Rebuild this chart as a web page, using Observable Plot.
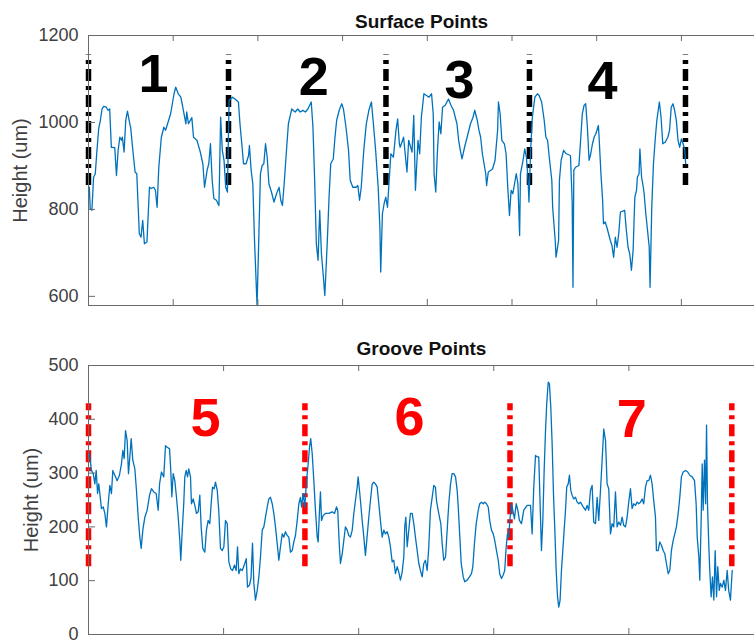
<!DOCTYPE html>
<html>
<head>
<meta charset="utf-8">
<script src="https://cdn.jsdelivr.net/npm/d3@7"></script>
<script src="https://cdn.jsdelivr.net/npm/@observablehq/plot@0.6"></script>
<style>
html, body { margin: 0; padding: 0; background: #fff; overflow: hidden; }
#chart { width: 754px; height: 640px; position: relative; background: #fff; }
#chart svg { display: block; }
</style>
</head>
<body>
<div id="chart"></div>
<script>
// ---------- Surface Points (top panel) ----------
const surfaceX = [1,2,4,6,8,10,12,14,16,18,
21,23,25,27,31,33,35,37,39,40,
42,44,46,48,50,52,55,57,60,62,
64,66,69,72,74,77,79,81,83,86,
89,91,94,97,99,101,103,106,109,111,
112,115,116,118,122,124,128,132,135,137,
140,142,144,146,148,151,154,156,158,160,
162,164,166,170,173,177,179,181,183,186,
189,190,192,194,196,199,201,203,205,207,
209,211,213,216,219,222,225,227,229,231,
234,236,240,244,247,250,253,256,259,263,
265,267,269,271,273,275,277,279,282,284,
286,289,291,293,296,299,301,304,307,309,
312,316,318,320,322,325,328,331,334,336,
339,342,344,345,347,349,351,353,355,357,
360,363,365,367,368,372,376,378,382,384,
386,389,391,393,396,399,402,405,407,408,
410,412,414,416,418,421,425,428,431,433,
435,437,439,441,444,447,451,454,456,459,
461,463,465,467,469,470,472,475,477,480,
483,484,486,488,491,493,495,497,499,501,
505,507,509,510,513,515,517,519,520,522,
524,527,530,532,535,538,540,542,544,547,
548,551,552,555,556,558,561,564,569,571,
572,573,575,579,581,583,585,587,589,591,
593,595,597,599,602,603,605,607,608,610,
612,614,616,618,620,622,624,626,628,633,
635,637,639,641,643,645,647,648,650,651,
653,655,656,658,660,662,663,665,667,669,
671,674,676,678,681,684,686,688,690,692,
694,696,698,700,702,704,705];
const surfaceY = [851,801,798,874,882,936,985,1005,1031,1037,
1035,1028,1031,943,942,878,936,966,959,966,
932,1005,1026,1005,985,943,886,882,744,736,
775,721,725,851,848,851,844,805,897,966,
989,982,1001,1020,1043,1066,1081,1066,1058,1039,
1028,997,1024,997,1011,966,959,932,905,851,
890,905,951,867,825,821,809,1012,936,913,
851,840,1051,1058,1054,1047,993,951,905,905,
924,947,890,859,729,579,729,882,901,905,
951,920,859,840,817,836,851,821,809,859,
943,997,1031,1024,1031,1024,1028,1024,1031,1047,
989,867,721,683,798,698,652,602,729,828,
905,916,966,1005,1028,1043,1031,989,936,867,
851,851,855,821,851,936,997,1028,1047,1005,
936,851,759,656,790,813,828,805,867,928,
920,982,1008,951,943,966,886,959,932,1016,
844,959,928,1012,1066,1062,1058,1066,1020,882,
840,936,1001,974,1035,1039,1054,1039,1028,1012,
997,959,936,916,943,966,997,1012,1028,1005,
982,966,928,905,882,855,886,890,893,913,
982,1047,1020,959,951,928,851,786,844,836,
882,859,740,882,913,939,920,867,817,936,
1012,1058,1066,1062,1047,1005,966,959,920,867,
805,729,690,729,867,913,936,928,924,821,
621,890,897,901,959,1020,1039,1043,989,913,
928,951,966,974,993,959,882,821,767,771,
759,744,729,717,690,736,713,744,794,798,
752,713,698,660,706,828,844,874,882,939,
874,851,836,790,752,713,621,805,905,959,
1005,1047,1012,951,955,966,982,1035,1043,1028,
1005,959,943,962,951,936,905];
const surfaceYTicks = [600, 800, 1000, 1200];
const surfaceXTicks = [0, 100, 200, 300, 400, 500, 600, 700];
const surfaceDividers = [0, 165.3, 351.2, 520.6, 704.8];
const surfaceDividerSpan = [855, 1155];
const surfaceSegments = ["1", "2", "3", "4"];
const surfaceSegmentX = [76.7, 266, 438, 606.8];
const surfaceSegmentY = [1110, 1104, 1095, 1093];

// ---------- Groove Points (bottom panel) ----------
const grooveX = [0.7,2.2,3.5,4.7,5.7,6.7,7.6,8.7,9.6,10.9,
12.1,13.3,14.6,15.8,17.0,18.0,19.5,21.2,22.9,24.4,
25.4,26.4,27.4,28.6,29.6,30.6,31.6,32.8,34.3,35.5,
36.8,38.0,39.0,40.2,41.7,43.4,45.2,46.6,48.3,50.1,
51.6,52.6,54.0,55.7,57.0,58.3,60.0,60.9,61.7,62.7,
63.9,65.1,66.4,67.6,68.3,69.4,70.5,71.3,72.3,73.3,
74.2,75.5,76.2,77.5,78.7,79.9,81.2,82.4,83.4,84.6,
86.1,87.3,88.6,89.8,90.8,91.8,93.0,94.0,95.3,96.4,
97.7,99.0,100.2,101.4,102.7,103.9,105.3,106.6,108.1,109.3,
110.3,111.3,112.5,113.8,115.3,116.8,117.7,119.2,120.3,121.4,
122.4,123.6,124.9,126.1,127.3,128.6,129.8,131.0,132.3,133.5,
134.7,136.0,137.2,138.4,139.7,140.9,142.1,143.4,144.6,145.8,
147.1,148.3,149.5,150.8,152.0,153.2,154.5,155.7,156.9,157.7,
158.9,160.1,161.4,162.6,163.6,164.5,165.6,166.8,168.0,169.3,
170.0,171.0,171.7,172.5,173.7,175.4,177.9,180.4,182.1,183.6,
184.5,185.6,186.5,187.8,189.0,190.2,191.5,192.7,193.9,195.2,
196.4,197.6,198.9,199.6,200.6,201.3,202.6,203.8,205.0,206.2,
207.5,208.7,210.0,211.2,212.4,213.7,214.9,216.1,217.4,218.6,
219.8,221.1,222.3,223.5,224.8,226.0,227.2,228.5,229.7,230.9,
232.2,233.4,234.1,234.9,235.9,237.1,238.3,239.6,240.8,242.0,
243.3,244.5,245.7,247.0,248.2,249.4,250.7,251.9,253.1,254.4,
255.6,256.8,257.6,258.8,259.8,260.8,261.8,263.0,264.3,265.5,
266.7,268.0,269.2,270.4,271.7,272.9,273.7,274.6,275.9,277.4,
278.5,280.3,282.0,283.5,284.5,285.7,287.0,288.5,289.6,290.9,
292.2,293.3,294.6,295.9,297.0,298.3,299.6,300.7,302.0,303.3,
304.4,305.7,306.9,308.1,309.2,310.1,311.1,312.1,313.1,314.1,
315.3,316.6,317.8,319.0,320.5,322.2,324.7,327.2,328.4,329.6,
330.9,332.1,333.3,334.3,335.3,336.3,337.3,338.3,339.2,340.3,
341.2,342.2,343.2,344.2,345.2,346.2,347.2,348.1,349.1,350.1,
351.1,352.1,353.1,354.0,355.1,356.0,357.0,358.0,359.2,360.5,
361.7,362.9,364.2,366.2,367.9,369.1,370.3,371.6,372.8,374.0,
375.3,376.5,377.7,379.0,380.2,381.4,382.7,383.9,385.1,386.4,
387.6,388.8,390.1,391.3,392.5,393.8,395.0,396.2,397.5,398.7,
399.9,401.2,402.4,403.6,404.9,406.1,407.3,408.6,409.8,411.0,
412.3,413.5,414.7,416.0,417.2,418.4,419.7,420.4,421.7,422.9,
424.1,425.4,426.6,427.8,429.1,430.3,431.5,432.8,434.0,435.2,
436.5,437.7,438.9,440.2,441.9,443.6,445.1,446.9,448.6,449.8,
450.6,451.8,452.5,453.5,454.3,455.0,456.0,456.8,457.5,458.2,
459.2,459.9,460.9,461.9,462.9,463.9,464.9,465.8,466.9,467.8,
469.1,470.3,471.5,472.8,473.9,475.2,476.5];
const grooveY = [336,305,299,280,305,262,280,255,234,237,
225,200,243,277,262,305,296,286,296,317,
342,327,379,361,299,330,364,324,308,268,
218,181,160,194,218,231,259,271,265,262,
231,280,302,293,351,348,345,305,256,299,
286,256,218,175,138,194,243,293,305,293,
308,293,243,252,240,225,228,259,200,160,
153,194,212,206,243,274,271,283,268,231,
160,156,163,212,206,135,122,119,129,119,
163,113,122,119,129,141,88,92,105,170,
95,64,82,107,144,194,200,218,237,252,
255,243,225,200,169,138,163,187,181,191,
184,181,153,156,172,184,212,243,255,237,
262,237,286,317,348,364,336,286,231,181,
172,231,265,212,221,225,225,228,225,237,
231,169,132,150,175,200,194,184,181,194,
225,249,274,293,268,249,212,181,147,181,
218,249,280,283,280,274,243,212,181,194,
187,191,181,163,135,138,113,126,116,101,
116,144,200,218,163,194,225,225,206,181,
156,132,119,107,132,138,119,163,231,255,
277,274,249,231,218,206,169,138,144,194,
243,280,299,299,293,268,237,194,132,107,
98,101,107,113,126,169,206,231,243,246,
243,246,243,237,212,194,187,175,156,138,
113,104,110,119,163,187,181,218,243,231,
215,243,231,212,206,231,240,240,187,274,
333,330,330,243,156,212,305,379,429,469,
466,423,355,262,194,119,70,51,64,119,
156,194,231,274,280,296,268,259,252,255,
246,243,246,237,231,240,231,268,277,209,
206,255,212,268,324,382,361,280,271,187,
206,200,265,200,209,203,218,203,200,218,
246,271,234,243,240,246,243,246,252,243,
274,286,286,296,280,249,218,156,156,172,
166,156,150,132,113,119,156,175,187,200,
225,255,293,302,305,302,296,293,286,243,
181,144,101,212,317,231,324,243,389,243,
163,119,70,107,64,156,70,126,82,95,
88,101,82,119,82,64,119];
const grooveYTicks = [0, 100, 200, 300, 400, 500];
const grooveXTicks = [0, 100, 200, 300, 400];
const grooveDividers = [0, 160.2, 312.0, 476.2];
const grooveDividerSpan = [126, 429];
const grooveSegments = ["5", "6", "7"];
const grooveSegmentX = [86.6, 237.6, 402.2];
const grooveSegmentY = [402, 403, 400];

// ---------- drawing ----------
const W = 754;
const ML = 88;
const FONT = "'Liberation Sans', Arial, Helvetica, sans-serif";
const AXIS = "#6a6a6a";

function panel(o) {
  const frameW = W - ML;
  const frameH = o.height - o.marginTop - o.marginBottom;
  const line = o.lineX.map((x, i) => ({x, y: o.lineY[i]}));
  const labels = o.labels.map((t, i) => ({t, x: o.labelX[i], y: o.labelY[i]}));
  return Plot.plot({
    width: W,
    height: o.height,
    marginLeft: ML,
    marginRight: 0,
    marginTop: o.marginTop,
    marginBottom: o.marginBottom,
    style: {fontFamily: FONT, fontSize: "18px", color: "#404040", background: "#fff"},
    x: {domain: o.xDomain, axis: null},
    y: {domain: o.yDomain, ticks: o.yTicks, tickSize: 0, tickPadding: 10, label: null, tickFormat: d => String(d)},
    marks: [
      Plot.ruleX(o.dividers, {x: d => d, y1: o.span[0], y2: o.span[1], stroke: o.dividerColor, strokeWidth: 5.5, strokeDasharray: "12,5,4,5"}),
      Plot.line(line, {x: "x", y: "y", stroke: "#0072BD", strokeWidth: 1.3}),
      Plot.text(labels, {x: "x", y: "y", text: "t", fill: o.labelColor, fontSize: 54, fontWeight: "bold", fontFamily: FONT}),
      Plot.ruleY([o.yDomain[1]], {stroke: AXIS, strokeWidth: 1}),
      Plot.ruleY([o.yDomain[0]], {stroke: AXIS, strokeWidth: 1}),
      Plot.ruleX([o.xDomain[0]], {stroke: AXIS, strokeWidth: 1}),
      Plot.tickY(o.yTicks, {y: d => d, stroke: AXIS, insetRight: frameW - 7}),
      Plot.tickX(o.xTicks, {x: d => d, stroke: AXIS, insetBottom: frameH - 6}),
      Plot.tickX(o.xTicks, {x: d => d, stroke: AXIS, insetTop: frameH - 6}),
      Plot.text([o.title], {text: d => d, frameAnchor: "top", lineAnchor: "middle", textAnchor: "middle", dy: o.titleDy, fontSize: 19, fontWeight: "bold", fill: "#111", fontFamily: FONT, letterSpacing: "1px"}),
      Plot.text(["Height (um)"], {text: d => d, frameAnchor: "left", rotate: -90, textAnchor: "middle", lineAnchor: "middle", dx: o.ylabelDx, fontSize: 20, fill: "#404040", fontFamily: FONT})
    ]
  });
}

const chart = document.getElementById("chart");
chart.appendChild(panel({
  height: 320, marginTop: 35, marginBottom: 15,
  xDomain: [0, 786.3], xTicks: surfaceXTicks,
  yDomain: [579, 1200], yTicks: surfaceYTicks,
  lineX: surfaceX, lineY: surfaceY,
  dividers: surfaceDividers, span: surfaceDividerSpan, dividerColor: "#000",
  labels: surfaceSegments, labelX: surfaceSegmentX, labelY: surfaceSegmentY, labelColor: "#000",
  title: "Surface Points", titleDy: -14, ylabelDx: -68
}));
chart.appendChild(panel({
  height: 320, marginTop: 45, marginBottom: 6,
  xDomain: [0, 493], xTicks: grooveXTicks,
  yDomain: [0, 500], yTicks: grooveYTicks,
  lineX: grooveX, lineY: grooveY,
  dividers: grooveDividers, span: grooveDividerSpan, dividerColor: "#ff0000",
  labels: grooveSegments, labelX: grooveSegmentX, labelY: grooveSegmentY, labelColor: "#ff0000",
  title: "Groove Points", titleDy: -16.5, ylabelDx: -57
}));
</script>
</body>
</html>
